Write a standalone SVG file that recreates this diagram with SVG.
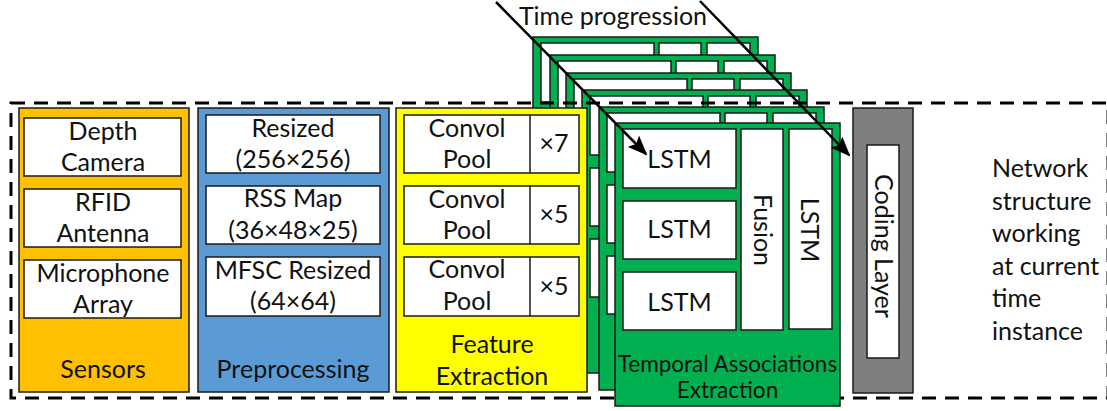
<svg xmlns="http://www.w3.org/2000/svg" xmlns:xlink="http://www.w3.org/1999/xlink" width="1107" height="411" viewBox="0 0 1107 411">
<style>
  text { font-family: Lato, "Liberation Sans", sans-serif; font-size: 25px; fill: #111; }
  .c { text-anchor: middle; }
  .box { fill: #ffffff; stroke: #1a1a1a; stroke-width: 1.5; }
  .panel { stroke: #1a1a1a; stroke-width: 1.5; }
  .frame { fill: #00B050; stroke: #1a1a1a; stroke-width: 1.5; }
  .dash { fill: none; stroke: #000; stroke-width: 3; stroke-dasharray: 14 9; }
  .arrow { fill: none; stroke: #000; stroke-width: 2.5; marker-end: url(#ah); }
</style>
<defs>
  <marker id="ah" viewBox="0 0 20 16" refX="18" refY="8" markerWidth="20" markerHeight="16" markerUnits="userSpaceOnUse" orient="auto">
    <path d="M0,0 L20,8 L0,16 L4,8 Z" fill="#000"/>
  </marker>
  <g id="frameShape">
    <rect class="frame" x="0" y="0" width="225" height="283"/>
    <rect class="box" x="8" y="6" width="113" height="59"/>
    <rect class="box" x="8" y="78" width="113" height="58"/>
    <rect class="box" x="8" y="149" width="113" height="58"/>
    <rect class="box" x="126" y="6" width="42" height="201"/>
    <rect class="box" x="174" y="6" width="43" height="200"/>
  </g>
</defs>

<g id="back-frames">
  <use xlink:href="#frameShape" x="533" y="37"/>
  <use xlink:href="#frameShape" x="550" y="55"/>
  <use xlink:href="#frameShape" x="566" y="73"/>
  <use xlink:href="#frameShape" x="582" y="90"/>
  <use xlink:href="#frameShape" x="599" y="107"/>
</g>

<g id="boundary">
  <rect class="dash" x="11" y="103" width="1097" height="295"/>
</g>

<g id="sensors">
  <rect class="panel" x="19" y="108" width="170" height="284" fill="#FFC000"/>
  <rect class="box" x="24" y="118" width="157" height="58"/>
  <rect class="box" x="24" y="189" width="157" height="58"/>
  <rect class="box" x="24" y="260" width="157" height="58"/>
  <text class="c" x="103" y="140">Depth</text>
  <text class="c" x="103" y="171">Camera</text>
  <text class="c" x="103" y="211">RFID</text>
  <text class="c" x="103" y="242">Antenna</text>
  <text class="c" x="103" y="282">Microphone</text>
  <text class="c" x="103" y="313">Array</text>
  <text class="c" x="103" y="378">Sensors</text>
</g>

<g id="preprocessing">
  <rect class="panel" x="198" y="108" width="191" height="284" fill="#5B9BD5"/>
  <rect class="box" x="206" y="115" width="174" height="58"/>
  <rect class="box" x="206" y="186" width="174" height="58"/>
  <rect class="box" x="206" y="257" width="174" height="59"/>
  <text class="c" x="293" y="137">Resized</text>
  <text class="c" x="293" y="168">(256×256)</text>
  <text class="c" x="293" y="207">RSS Map</text>
  <text class="c" x="293" y="239">(36×48×25)</text>
  <text class="c" x="293" y="279">MFSC Resized</text>
  <text class="c" x="293" y="310">(64×64)</text>
  <text class="c" x="293" y="378">Preprocessing</text>
</g>

<g id="feature-extraction">
  <rect class="panel" x="396" y="108" width="191" height="284" fill="#FFFF00"/>
  <rect class="box" x="404" y="115" width="175" height="58"/>
  <line x1="530" y1="115" x2="530" y2="173" stroke="#1a1a1a" stroke-width="1.5"/>
  <rect class="box" x="404" y="186" width="175" height="58"/>
  <line x1="530" y1="186" x2="530" y2="244" stroke="#1a1a1a" stroke-width="1.5"/>
  <rect class="box" x="404" y="257" width="175" height="59"/>
  <line x1="530" y1="257" x2="530" y2="316" stroke="#1a1a1a" stroke-width="1.5"/>
  <text class="c" x="467" y="137">Convol</text>
  <text class="c" x="467" y="168">Pool</text>
  <text class="c" x="554" y="152">×7</text>
  <text class="c" x="467" y="208">Convol</text>
  <text class="c" x="467" y="239">Pool</text>
  <text class="c" x="554" y="223">×5</text>
  <text class="c" x="467" y="278">Convol</text>
  <text class="c" x="467" y="310">Pool</text>
  <text class="c" x="554" y="295">×5</text>
  <text class="c" x="492" y="353">Feature</text>
  <text class="c" x="492" y="385">Extraction</text>
</g>

<g id="temporal-associations">
  <use xlink:href="#frameShape" x="615" y="123"/>
  <text class="c" x="679.5" y="168">LSTM</text>
  <text class="c" x="679.5" y="238">LSTM</text>
  <text class="c" x="679.5" y="311">LSTM</text>
  <text class="c" transform="translate(754,230) rotate(90)">Fusion</text>
  <text class="c" transform="translate(801,230) rotate(90)">LSTM</text>
  <text class="c" x="727.5" y="372" style="font-size:22.5px">Temporal Associations</text>
  <text class="c" x="727.5" y="398" style="font-size:22.5px">Extraction</text>
</g>

<g id="coding-layer">
  <rect class="panel" x="853" y="108" width="60" height="285" fill="#7F7F7F"/>
  <rect class="box" x="867" y="145" width="32" height="213"/>
  <text class="c" transform="translate(875,246) rotate(90)">Coding Layer</text>
</g>

<g id="note">
  <text x="992" y="177">Network</text>
  <text x="992" y="210">structure</text>
  <text x="992" y="242">working</text>
  <text x="992" y="275">at current</text>
  <text x="992" y="307">time</text>
  <text x="992" y="340">instance</text>
</g>

<g id="connectors">
  <line class="arrow" x1="496" y1="2" x2="646" y2="154"/>
  <line class="arrow" x1="700" y1="1" x2="849" y2="155"/>
</g>

<g id="time-label">
  <text class="c" x="613" y="25">Time progression</text>
</g>
</svg>
